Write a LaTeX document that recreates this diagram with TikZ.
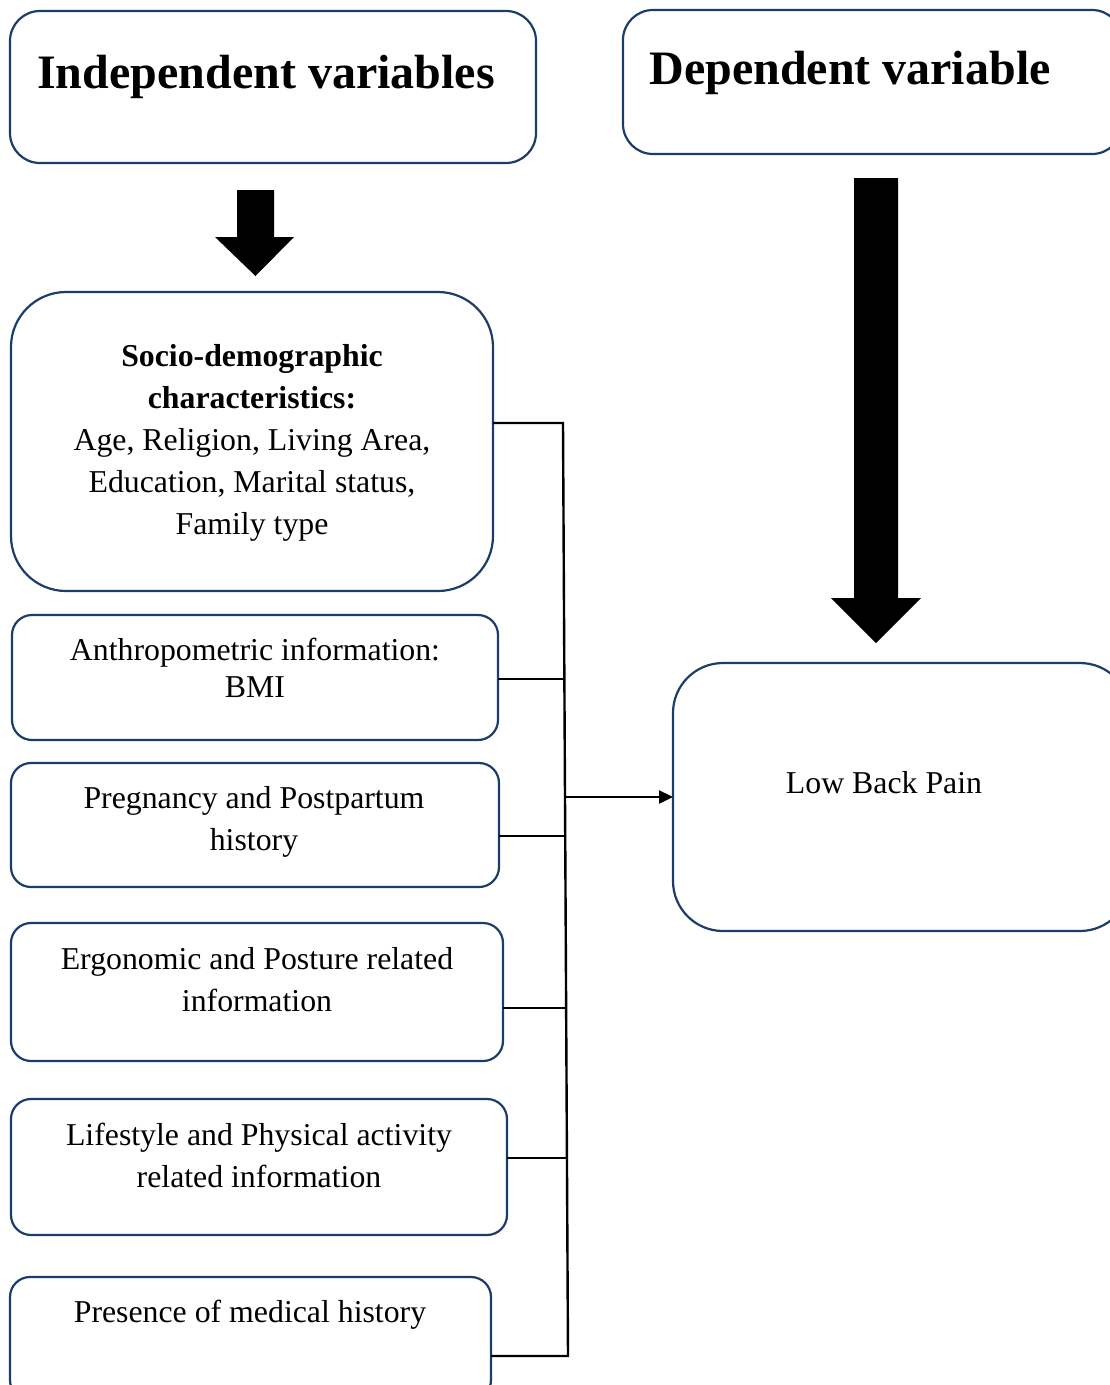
\documentclass[tikz,border=0pt]{standalone}
\usepackage{fontspec}
\setmainfont{Liberation Serif}
\usetikzlibrary{arrows.meta}
\definecolor{boxblue}{HTML}{1A3D6B}
\tikzset{
  box/.style={draw=boxblue, line width=2.2pt, inner sep=0pt, outer sep=0pt},
  txt/.style={anchor=base, align=center, inner sep=0pt, font=\fontsize{31.8}{42}\selectfont},
  title/.style={anchor=base, inner sep=0pt, font=\fontsize{48}{56}\selectfont\bfseries},
  link/.style={line width=2.4pt, black},
  blockarrow/.style={fill=black}
}
\begin{document}
\begin{tikzpicture}[x=1pt,y=-1pt]
\useasboundingbox (0,0) rectangle (1110,1385);
\begin{scope}
\clip (0,0) rectangle (1110,1385);
% title boxes
\node[box, rounded corners=30pt, minimum width=526pt, minimum height=152pt] (indep) at (273,87) {};
\node[title] (indeptxt) at (266,88) {Independent variables};
\node[box, rounded corners=30pt, minimum width=499pt, minimum height=144pt] (dep) at (872.5,82) {};
\node[title] (deptxt) at (850,84) {Dependent variable};
% block arrows
\fill[blockarrow] (237,190) -- (274,190) -- (274,237) -- (294,237) -- (255.5,276) -- (215,237) -- (237,237) -- cycle;
\fill[blockarrow] (854,178) -- (898,178) -- (898,598) -- (921,598) -- (876,643) -- (831,598) -- (854,598) -- cycle;
% left boxes
\node[box, rounded corners=55pt, minimum width=482pt, minimum height=299pt] (socio) at (252,441.5) {};
\node[txt] (sociotxt) at (252,534) {\textbf{Socio-demographic}\\\textbf{characteristics:}\\Age, Religion, Living Area,\\Education, Marital status,\\Family type};
\node[box, rounded corners=20pt, minimum width=486pt, minimum height=125pt] (anthro) at (255,677.5) {};
\node[txt, font=\fontsize{31.8}{37}\selectfont] (anthrotxt) at (255,697) {Anthropometric information:\\BMI};
\node[box, rounded corners=20pt, minimum width=488pt, minimum height=124pt] (preg) at (255,825) {};
\node[txt] (pregtxt) at (254,850) {Pregnancy and Postpartum\\history};
\node[box, rounded corners=20pt, minimum width=492pt, minimum height=138pt] (ergo) at (257,992) {};
\node[txt] (ergotxt) at (257,1011) {Ergonomic and Posture related\\information};
\node[box, rounded corners=20pt, minimum width=496pt, minimum height=136pt] (life) at (259,1167) {};
\node[txt] (lifetxt) at (259,1187) {Lifestyle and Physical activity\\related information};
\node[box, rounded corners=20pt, minimum width=481pt, minimum height=123pt] (med) at (250.5,1338.5) {};
\node[txt] (medtxt) at (250,1322) {Presence of medical history};
% outcome box
\node[box, rounded corners=50pt, minimum width=457pt, minimum height=268pt] (lbp) at (901.5,797) {};
\node[txt] (lbptxt) at (884,793) {Low Back Pain};
% bus
\coordinate (b1) at (563,423);
\coordinate (b2) at (564.4,679);
\coordinate (b3) at (565.2,836);
\coordinate (b4) at (566.1,1008);
\coordinate (b5) at (566.9,1158);
\coordinate (b6) at (568,1356);
\coordinate (bm) at (565,797);
\draw[link] (socio.east |- b1) -- (b1) -- (b6) -- (med.east |- b6);
\draw[link] (anthro.east |- b2) -- (b2);
\draw[link] (preg.east |- b3) -- (b3);
\draw[link] (ergo.east |- b4) -- (b4);
\draw[link] (life.east |- b5) -- (b5);
\draw[link, -{Triangle[length=14pt,width=13pt]}] (bm) -- (lbp.west);
\end{scope}
\end{tikzpicture}
\end{document}
